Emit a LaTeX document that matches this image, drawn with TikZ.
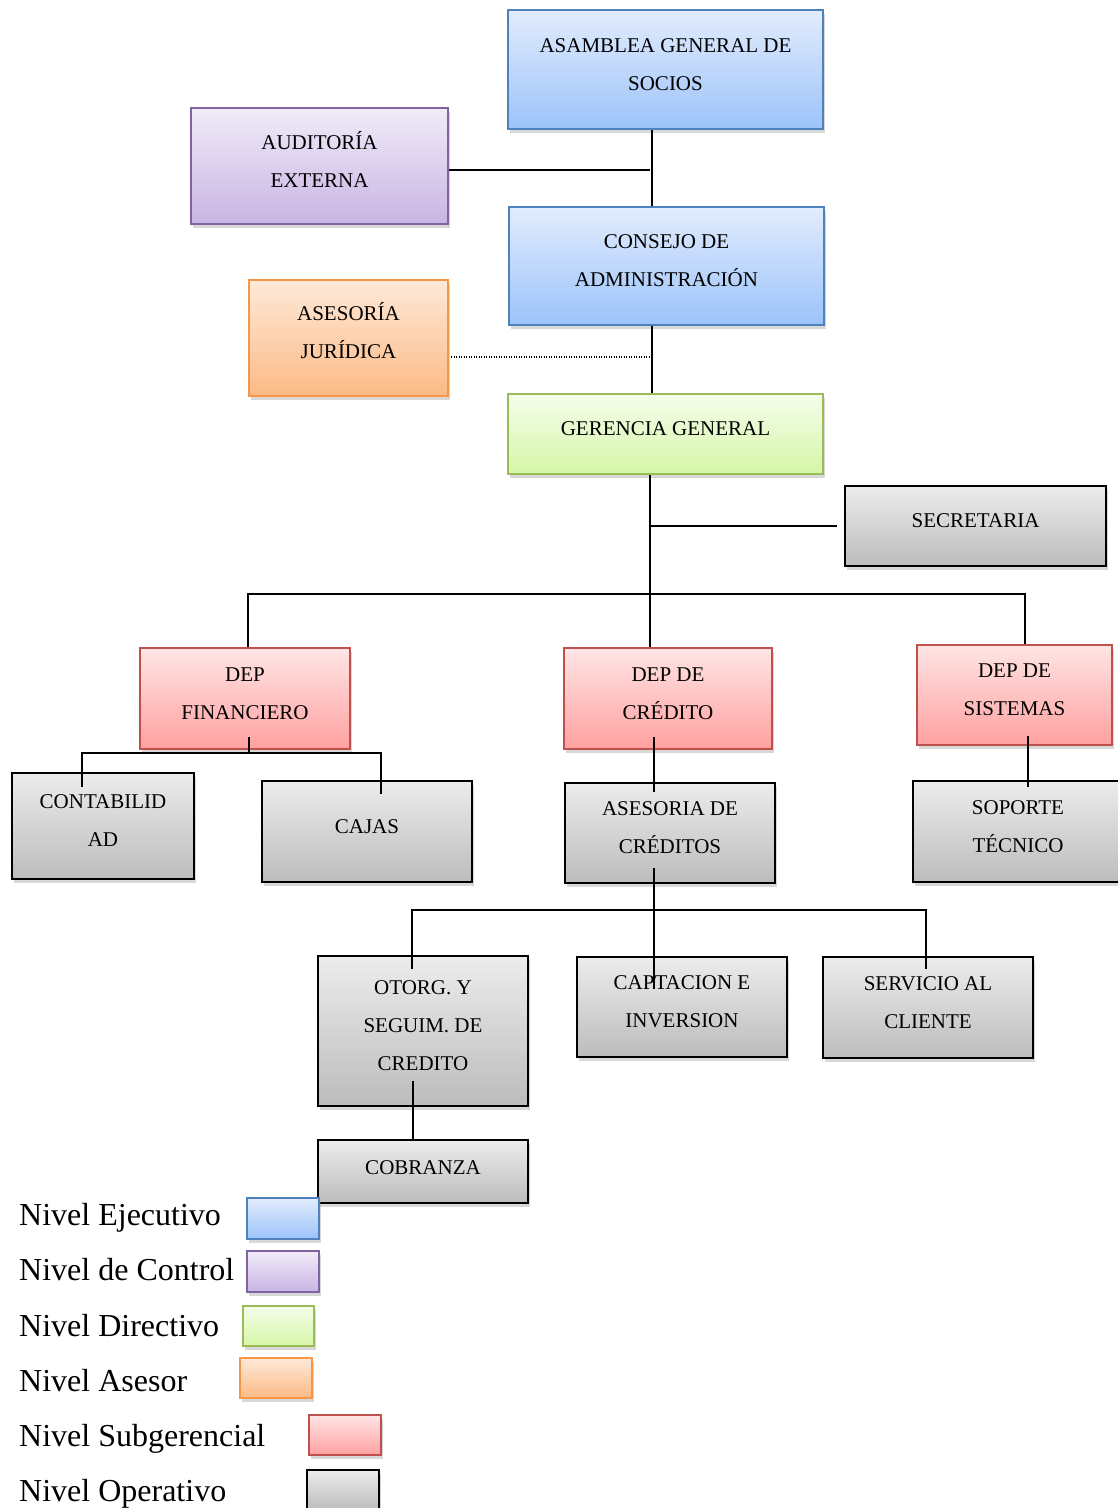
\documentclass[tikz,border=0pt]{standalone}
\usepackage{fontspec}
\setmainfont{Liberation Serif}
\usetikzlibrary{shadows}

% level colours: border, top and bottom of the gradient
\definecolor{execD}{RGB}{79,129,189}
\definecolor{execT}{RGB}{226,236,253}
\definecolor{execB}{RGB}{156,195,250}
\definecolor{ctrlD}{RGB}{128,100,162}
\definecolor{ctrlT}{RGB}{241,235,248}
\definecolor{ctrlB}{RGB}{200,180,228}
\definecolor{dirD}{RGB}{155,187,89}
\definecolor{dirT}{RGB}{245,253,236}
\definecolor{dirB}{RGB}{214,246,166}
\definecolor{aseD}{RGB}{247,150,70}
\definecolor{aseT}{RGB}{254,233,216}
\definecolor{aseB}{RGB}{251,186,134}
\definecolor{subD}{RGB}{192,80,77}
\definecolor{subT}{RGB}{255,229,229}
\definecolor{subB}{RGB}{255,160,160}
\definecolor{opT}{RGB}{236,236,236}
\definecolor{opB}{RGB}{188,188,188}

\begin{document}
\begin{tikzpicture}[x=1pt,y=-1pt,
  box/.style={line width=2pt, inner sep=0pt,
    drop shadow={shadow xshift=1.5pt, shadow yshift=-4pt, opacity=0.3}},
  exec/.style={box, draw=execD, top color=execT, bottom color=execB},
  ctrl/.style={box, draw=ctrlD, top color=ctrlT, bottom color=ctrlB},
  dirv/.style={box, draw=dirD, top color=dirT, bottom color=dirB},
  ases/.style={box, draw=aseD, top color=aseT, bottom color=aseB},
  subg/.style={box, draw=subD, top color=subT, bottom color=subB},
  oper/.style={box, draw=black, line width=2.4pt, top color=opT, bottom color=opB},
  sz/.style 2 args={minimum width=#1, minimum height=#2},
  boxtext/.style={align=center, inner sep=0pt, font=\fontsize{21}{38}\selectfont},
  legtext/.style={anchor=base west, inner sep=0pt, font=\fontsize{32}{38}\selectfont},
  link/.style={line width=2pt, draw=black},
  dotlink/.style={line width=1.3pt, draw=black, dash pattern=on 1.3pt off 1.2pt}]

\path[fill=white, use as bounding box] (0,0) rectangle (1118,1508);

% ---------- boxes ----------
\node[exec, sz={315}{119}] (asamblea) at (665.5,69.5) {};
\node[boxtext] (asamblea-t) at ([yshift=5pt]asamblea.center) {ASAMBLEA GENERAL DE\\SOCIOS};

\node[ctrl, sz={257}{116}] (auditoria) at (319.5,166) {};
\node[boxtext] (auditoria-t) at ([yshift=7pt]auditoria.center) {AUDITORÍA\\EXTERNA};

\node[exec, sz={315}{118}] (consejo) at (666.5,266) {};
\node[boxtext] (consejo-t) at ([yshift=5pt]consejo.center) {CONSEJO DE\\ADMINISTRACIÓN};

\node[ases, sz={199}{116}] (asesoria) at (348.5,338) {};
\node[boxtext] (asesoria-t) at ([yshift=7pt]asesoria.center) {ASESORÍA\\JURÍDICA};

\node[dirv, sz={315}{80}] (gerencia) at (665.5,434) {};
\node[boxtext] (gerencia-t) at ([yshift=5pt]gerencia.center) {GERENCIA GENERAL};

\node[oper, sz={261}{80}] (secretaria) at (975.5,526) {};
\node[boxtext] (secretaria-t) at ([yshift=5pt]secretaria.center) {SECRETARIA};

\node[subg, sz={210}{101}] (depfin) at (245,698.5) {};
\node[boxtext] (depfin-t) at ([yshift=5pt]depfin.center) {DEP\\FINANCIERO};

\node[subg, sz={208}{101}] (depcred) at (668,698.5) {};
\node[boxtext] (depcred-t) at ([yshift=5pt]depcred.center) {DEP DE\\CRÉDITO};

\node[subg, sz={195}{100}] (depsis) at (1014.5,695) {};
\node[boxtext] (depsis-t) at ([yshift=5pt]depsis.center) {DEP DE\\SISTEMAS};

\node[oper, sz={182}{106}] (contab) at (103,826) {};
\node[boxtext] (contab-t) at ([yshift=5pt]contab.center) {CONTABILID\\AD};

\node[oper, sz={210}{101}] (cajas) at (367,831.5) {};
\node[boxtext] (cajas-t) at ([yshift=5pt]cajas.center) {CAJAS};

\node[oper, sz={210}{100}] (asecred) at (670,833) {};
\node[boxtext] (asecred-t) at ([yshift=5pt]asecred.center) {ASESORIA DE\\CRÉDITOS};

\node[oper, sz={210}{101}] (soporte) at (1018,831.5) {};
\node[boxtext] (soporte-t) at ([yshift=5pt]soporte.center) {SOPORTE\\TÉCNICO};

\node[oper, sz={210}{150}] (otorg) at (423,1031) {};
\node[boxtext] (otorg-t) at ([yshift=5pt]otorg.center) {OTORG. Y\\SEGUIM. DE\\CREDITO};

\node[oper, sz={210}{100}] (captacion) at (682,1007) {};
\node[boxtext] (captacion-t) at ([yshift=5pt]captacion.center) {CAPTACION E\\INVERSION};

\node[oper, sz={210}{101}] (servicio) at (928,1007.5) {};
\node[boxtext] (servicio-t) at ([yshift=5pt]servicio.center) {SERVICIO AL\\CLIENTE};

\node[oper, sz={210}{63}] (cobranza) at (423,1171.5) {};
\node[boxtext] (cobranza-t) at ([yshift=4pt]cobranza.center) {COBRANZA};

% ---------- connectors ----------
\coordinate (a1) at (652,170);
\coordinate (a2) at (652,357);
\draw[link] (asamblea.south -| a1) -- (consejo.north -| a1);
\draw[link] (auditoria.east |- a1) -- ([xshift=-2pt]a1);
\draw[link] (consejo.south -| a2) -- (gerencia.north -| a2);
\draw[dotlink] ([xshift=2pt]asesoria.east |- a2) -- ([xshift=-2pt]a2);

\coordinate (g1) at (650,526);
\coordinate (b1) at (248,594);
\coordinate (b2) at (1025,594);
\draw[link] (gerencia.south -| g1) -- (depcred.north -| g1);
\draw[link] (g1) -- ([xshift=-7pt]secretaria.west |- g1);
\draw[link] (depfin.north -| b1) -- (b1) -- (b2) -- (depsis.north -| b2);

\coordinate (fJ) at (249,753);
\coordinate (fL) at (82,753);
\coordinate (fR) at (381,753);
\draw[link] ([yshift=13pt]depfin.south -| fJ) -- (fJ);
\draw[link] ([yshift=-15pt]contab.north -| fL) -- (fL) -- (fR) -- ([yshift=-14pt]cajas.north -| fR);

\coordinate (c1) at (654,760);
\draw[link] ([yshift=13pt]depcred.south -| c1) -- ([yshift=-10pt]asecred.north -| c1);

\coordinate (s1) at (1028,760);
\draw[link] ([yshift=10pt]depsis.south -| s1) -- ([yshift=-7pt]soporte.north -| s1);

\coordinate (k1) at (654,910);
\coordinate (kL) at (412,910);
\coordinate (kR) at (926,910);
\draw[link] ([yshift=16pt]asecred.south -| k1) -- ([yshift=-33pt]captacion.north -| k1);
\draw[link] ([yshift=-14pt]otorg.north -| kL) -- (kL) -- (kR) -- ([yshift=-13pt]servicio.north -| kR);

\coordinate (o1) at (413,1120);
\draw[link] ([yshift=26pt]otorg.south -| o1) -- (cobranza.north -| o1);

% ---------- legend ----------
\node[legtext] (leg1-t) at (19,1225) {Nivel Ejecutivo};
\node[exec, sz={72}{41}] (leg1) at (283,1218.5) {};
\node[legtext] (leg2-t) at (19,1280) {Nivel de Control};
\node[ctrl, sz={72}{41}] (leg2) at (283,1271.5) {};
\node[legtext] (leg3-t) at (19,1336) {Nivel Directivo};
\node[dirv, sz={71}{40}] (leg3) at (278.5,1326) {};
\node[legtext] (leg4-t) at (19,1391) {Nivel Asesor};
\node[ases, sz={72}{40}] (leg4) at (276,1378) {};
\node[legtext] (leg5-t) at (19,1446) {Nivel Subgerencial};
\node[subg, sz={72}{40}] (leg5) at (345,1435) {};
\node[legtext] (leg6-t) at (19,1501) {Nivel Operativo};
\node[oper, sz={72}{40}] (leg6) at (343,1490) {};

\end{tikzpicture}
\end{document}
